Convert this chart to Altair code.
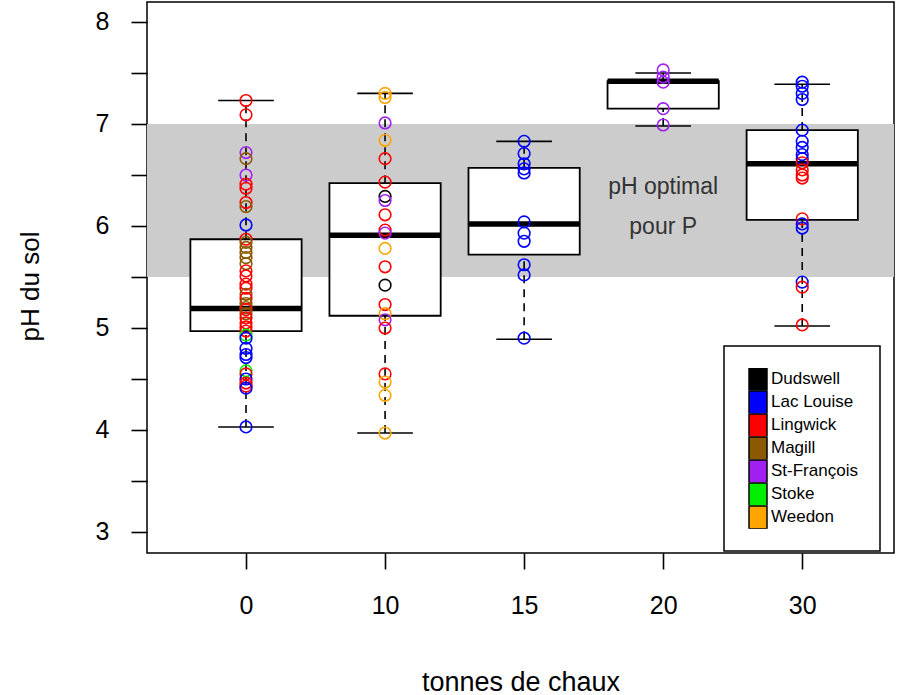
import json

import altair as alt
import pandas as pd

# --- data -------------------------------------------------------------------
doses = ["0", "10", "15", "20", "30"]

# box-plot summaries per lime dose (whiskers, quartiles, median)
whisker_low = [4.03, 3.97, 4.89, 6.98, 5.02]
quart1 = [4.97, 5.12, 5.72, 7.15, 6.06]
medians = [5.19, 5.91, 6.02, 7.42, 6.61]
quart3 = [5.87, 6.42, 6.57, 7.42, 6.94]
whisker_high = [7.23, 7.30, 6.83, 7.50, 7.39]

sites = ["Dudswell", "Lac Louise", "Lingwick", "Magill", "St-François", "Stoke", "Weedon"]
site_colors = ["#000000", "#0000FF", "#FF0000", "#8B5A00", "#A020F0", "#00EE00", "#FFA500"]

# individual soil samples, per dose
ph_0 = [7.23, 7.09, 6.72, 6.66, 6.50, 6.41, 6.37, 6.23, 6.19, 6.01, 5.87, 5.84,
        5.79, 5.74, 5.69, 5.63, 5.56, 5.51, 5.43, 5.39, 5.33, 5.29, 5.24, 5.20,
        5.18, 5.14, 5.10, 5.05, 5.01, 4.97, 4.93, 4.90, 4.80, 4.74, 4.71, 4.58,
        4.55, 4.50, 4.46, 4.43, 4.41, 4.03]
site_0 = ["Lingwick", "Lingwick", "St-François", "Magill", "St-François", "Lingwick",
          "Lingwick", "Lingwick", "Magill", "Lac Louise", "Lingwick", "Magill",
          "Magill", "Magill", "Magill", "Magill", "Lingwick", "Lingwick",
          "Lingwick", "Lingwick", "Magill", "Lingwick", "Magill", "Magill",
          "Lingwick", "Magill", "Lingwick", "Lingwick", "Lingwick", "Lingwick",
          "Stoke", "Lac Louise", "Lac Louise", "Lac Louise", "Lac Louise", "Stoke",
          "Lingwick", "Lac Louise", "Lingwick", "Lingwick", "Lac Louise", "Lac Louise"]

ph_10 = [7.30, 7.26, 7.01, 6.84, 6.66, 6.43, 6.29, 6.25, 6.11, 5.96, 5.93, 5.78,
         5.60, 5.42, 5.23, 5.14, 5.08, 5.00, 4.55, 4.47, 4.34, 3.97]
site_10 = ["Weedon", "Weedon", "St-François", "Weedon", "Lingwick", "Lingwick",
           "Dudswell", "St-François", "Lingwick", "Lingwick", "St-François", "Weedon",
           "Lingwick", "Dudswell", "Lingwick", "Weedon", "St-François", "Lingwick",
           "Lingwick", "Weedon", "Weedon", "Weedon"]

ph_15 = [6.83, 6.71, 6.61, 6.56, 6.52, 6.04, 5.93, 5.85, 5.62, 5.52, 4.90]
site_15 = ["Lac Louise"] * 11

ph_20 = [7.53, 7.46, 7.41, 7.15, 6.99]
site_20 = ["St-François"] * 5

ph_30 = [7.41, 7.37, 7.30, 7.24, 6.94, 6.83, 6.77, 6.70, 6.66, 6.62, 6.55, 6.50,
         6.47, 6.07, 6.02, 5.98, 5.45, 5.40, 5.03]
site_30 = ["Lac Louise", "Lac Louise", "Lac Louise", "Lac Louise", "Lac Louise",
           "Lac Louise", "Lac Louise", "Lac Louise", "Lac Louise", "Lingwick",
           "Lingwick", "Lingwick", "Lingwick", "Lingwick", "Lac Louise",
           "Lac Louise", "Lac Louise", "Lingwick", "Lingwick"]

optimal_range = [5.5, 7.0]
note_lines = ["pH optimal", "pour P"]
note_ph = [6.38, 5.99]
note_dose = "20"

# --- tables -----------------------------------------------------------------
BOX_HALF = 0.4
CAP_HALF = 0.2
positions = list(range(1, len(doses) + 1))
colour_of = dict(zip(sites, site_colors))

boxes = pd.DataFrame({
    "pos": positions, "lo": whisker_low, "q1": quart1, "med": medians,
    "q3": quart3, "hi": whisker_high,
})
boxes["left"] = boxes["pos"] - BOX_HALF
boxes["right"] = boxes["pos"] + BOX_HALF
boxes["cap_l"] = boxes["pos"] - CAP_HALF
boxes["cap_r"] = boxes["pos"] + CAP_HALF

frames = []
for d, ph, st in [("0", ph_0, site_0), ("10", ph_10, site_10), ("15", ph_15, site_15),
                  ("20", ph_20, site_20), ("30", ph_30, site_30)]:
    frames.append(pd.DataFrame({"pos": doses.index(d) + 1, "ph": ph, "site": st}))
samples = pd.concat(frames, ignore_index=True)
samples["colour"] = samples["site"].map(colour_of)

band = pd.DataFrame({"lo": [optimal_range[0]], "hi": [optimal_range[1]]})
notes = pd.DataFrame({"pos": doses.index(note_dose) + 1, "ph": note_ph, "txt": note_lines})

# --- scales and axes ----------------------------------------------------------
W, H = 747, 551
FONT = "Liberation Sans"

xscale = alt.Scale(domain=[0.288, 5.66], nice=False, zero=False)
yscale = alt.Scale(domain=[2.794, 8.196], nice=False, zero=False)

xaxis = alt.Axis(
    title="tonnes de chaux", values=positions,
    labelExpr=f"{json.dumps(doses)}[datum.value - 1]",
    grid=False, domain=False, tickSize=16, tickWidth=1.6, tickColor="black",
    labelFont=FONT, labelFontSize=25, labelColor="black", labelPadding=24,
    labelFlush=False, labelOverlap=False,
    titleFont=FONT, titleFontSize=27, titleFontWeight="normal", titleColor="black",
    titleX=W / 2, titleY=137, titleBaseline="alphabetic", titleAlign="center",
)
yaxis = alt.Axis(
    title="pH du sol", values=[3 + 0.5 * i for i in range(11)],
    labelExpr="datum.value % 1 == 0 ? format(datum.value, 'd') : ''",
    grid=False, domain=False, tickSize=16, tickWidth=1.6, tickColor="black",
    labelFont=FONT, labelFontSize=25, labelColor="black", labelPadding=22,
    labelFlush=False, labelOverlap=False,
    titleFont=FONT, titleFontSize=26, titleFontWeight="normal", titleColor="black",
    titleX=-117, titleY=284, titleAngle=-90, titleBaseline="middle", titleAlign="center",
)


def X(field):
    return alt.X(field, type="quantitative", scale=xscale, axis=xaxis)


def Y(field):
    return alt.Y(field, type="quantitative", scale=yscale, axis=yaxis)


# --- layers -----------------------------------------------------------------
band_layer = alt.Chart(band).mark_rect(color="#CCCCCC").encode(
    x=alt.value(0), x2=alt.value(W), y=Y("lo"), y2="hi"
)

dash = [8, 6]
upper_whisker = alt.Chart(boxes).mark_rule(color="black", strokeWidth=1.6, strokeDash=dash).encode(
    x=X("pos"), y=Y("q3"), y2="hi"
)
lower_whisker = alt.Chart(boxes).mark_rule(color="black", strokeWidth=1.6, strokeDash=dash).encode(
    x=X("pos"), y=Y("lo"), y2="q1"
)
upper_cap = alt.Chart(boxes).mark_rule(color="black", strokeWidth=1.6).encode(
    x=X("cap_l"), x2="cap_r", y=Y("hi")
)
lower_cap = alt.Chart(boxes).mark_rule(color="black", strokeWidth=1.6).encode(
    x=X("cap_l"), x2="cap_r", y=Y("lo")
)
box_layer = alt.Chart(boxes).mark_rect(fill="white", stroke="black", strokeWidth=1.8).encode(
    x=X("left"), x2="right", y=Y("q1"), y2="q3"
)
median_layer = alt.Chart(boxes).mark_rule(color="black", strokeWidth=5.5).encode(
    x=X("left"), x2="right", y=Y("med")
)

# open circles, outlined in the colour of their site
points = alt.Chart(samples).mark_point(
    shape="circle", filled=False, size=135, strokeWidth=1.6, opacity=1
).encode(
    x=X("pos"), y=Y("ph"),
    stroke=alt.Stroke("colour:N", scale=None),
)

# transparent squares that carry the filled-swatch legend of the sites;
# entries are clipped to a fixed height so the swatches stack edge to edge
legend_layer = alt.Chart(samples).mark_square(
    opacity=0, stroke="black", strokeWidth=1.5
).encode(
    x=X("pos"), y=Y("ph"),
    color=alt.Color(
        "site:N",
        scale=alt.Scale(domain=sites, range=site_colors),
        legend=alt.Legend(
            title=None, orient="none", legendX=577, legendY=344,
            symbolType="M-0.83,-1.05L0.83,-1.05L0.83,1.05L-0.83,1.05Z", symbolSize=470,
            symbolStrokeColor="black", symbolStrokeWidth=1.5, symbolOpacity=1,
            clipHeight=22.7, rowPadding=0.001, labelOffset=1,
            labelFont=FONT, labelFontSize=17, labelColor="black",
            padding=22, strokeColor="black", fillColor="white",
        ),
    ),
)

note_layer = alt.Chart(notes).mark_text(font=FONT, fontSize=23, color="#333333").encode(
    x=X("pos"), y=Y("ph"), text="txt"
)

chart = alt.layer(
    band_layer, upper_whisker, lower_whisker, upper_cap, lower_cap,
    box_layer, median_layer, points, legend_layer, note_layer,
).properties(
    width=W, height=H,
    autosize=alt.AutoSizeParams(type="none"),
    padding={"left": 147, "top": 2, "right": 9, "bottom": 142},
    background="white",
).configure_view(
    stroke="black", strokeWidth=1.5
).configure_legend(
    strokeWidth=1.5
)

chart.save("out.html", embed_options={"renderer": "svg", "actions": False})
